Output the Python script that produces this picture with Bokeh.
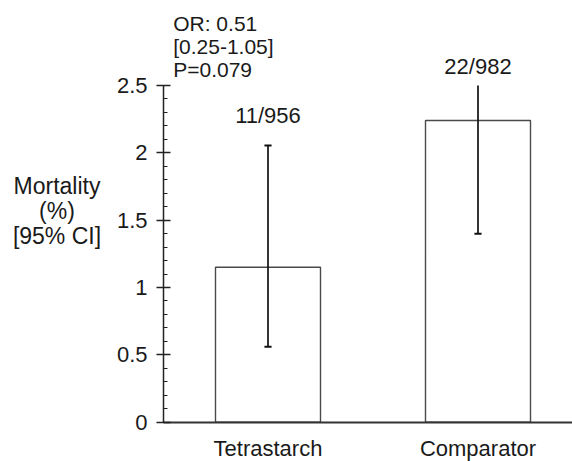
from bokeh.plotting import figure
from bokeh.models import (Range1d, FixedTicker, SingleIntervalTicker, CustomJSTickFormatter)
from bokeh.core.properties import value
from bokeh.embed import file_html
from bokeh.resources import INLINE

# ---- data ----
categories = ["Tetrastarch", "Comparator"]
mortality = [1.15, 2.24]
ci_lower = [0.56, 1.40]
ci_upper = [2.055, 2.50]          # comparator CI runs off the top of the axis (clipped at 2.5)
counts = ["11/956", "22/982"]
or_text = ["OR: 0.51", "[0.25-1.05]", "P=0.079"]
y_label_lines = ["Mortality", "(%)", "[95% CI]"]
y_ticks_max = 2.5

FONT = "Liberation Sans"
TXT = "#1a1a1a"

xs = list(range(1, len(categories) + 1))
x_axis_pos = 0.5024          # x (data) where the y axis stands
x_end = 2.450
nudge = 0.05                 # small upward shift of free text

p = figure(width=572, height=461, output_backend="svg", toolbar_location=None,
           x_range=Range1d(-0.2738, x_end), y_range=Range1d(-0.292, 3.131),
           min_border_left=0, min_border_right=0, min_border_top=0, min_border_bottom=0)
p.outline_line_color = None
p.xgrid.visible = False
p.ygrid.visible = False
p.background_fill_color = "white"
p.border_fill_color = "white"

# ---- bars ----
p.vbar(x=xs, top=mortality, bottom=0, width=0.5, fill_color="white",
       line_color="#4a4a4a", line_width=1.4)

# ---- error bars ----
p.segment(x0=xs, y0=ci_lower, x1=xs, y1=ci_upper, line_color="#111111", line_width=1.7)
cap = 0.017
cap_x0, cap_x1, cap_y = [], [], []
for x, lo, hi in zip(xs, ci_lower, ci_upper):
    cap_x0.append(x - cap); cap_x1.append(x + cap); cap_y.append(lo)
    if hi < y_ticks_max:
        cap_x0.append(x - cap); cap_x1.append(x + cap); cap_y.append(hi)
p.segment(x0=cap_x0, y0=cap_y, x1=cap_x1, y1=cap_y, line_color="#111111", line_width=2)

# ---- count labels ----
count_y = [2.225 + nudge, 2.59 + nudge]
p.text(x=xs, y=count_y, text=counts, text_align="center", text_baseline="alphabetic",
       text_font=value(FONT), text_font_size="22px", text_color=TXT)

# ---- OR annotation ----
or_x = 0.5486
or_top = 2.908 + nudge
step = 0.171
p.text(x=[or_x] * len(or_text), y=[or_top - i * step for i in range(len(or_text))], text=or_text,
       text_align="left", text_baseline="alphabetic",
       text_font=value(FONT), text_font_size="21px", text_color=TXT)

# ---- y axis title (horizontal, centred lines) ----
yl_x = -0.0048
yl_top = 1.707 + nudge
yl_step = 0.1855
p.text(x=[yl_x] * len(y_label_lines), y=[yl_top - i * yl_step for i in range(len(y_label_lines))],
       text=y_label_lines, text_align="center", text_baseline="alphabetic",
       text_font=value(FONT), text_font_size="23px", text_color=TXT)

# ---- x axis at y=0 ----
xa = p.xaxis[0]
xa.fixed_location = 0
xa.bounds = (x_axis_pos, x_end)
xa.ticker = FixedTicker(ticks=xs)
xa.major_label_overrides = {x: c for x, c in zip(xs, categories)}
xa.major_tick_out = 0
xa.major_tick_in = 0
xa.minor_tick_out = 0
xa.minor_tick_in = 0
xa.axis_line_color = "#333333"
xa.axis_line_width = 2
xa.major_label_standoff = 14
xa.major_label_text_font = FONT
xa.major_label_text_font_size = "22px"
xa.major_label_text_color = TXT

# ---- y axis ----
ya = p.yaxis[0]
ya.fixed_location = x_axis_pos
ya.bounds = (0, y_ticks_max)
ya.ticker = SingleIntervalTicker(interval=0.5, num_minor_ticks=5)
ya.formatter = CustomJSTickFormatter(code="return tick.toString()")
ya.major_tick_out = 7
ya.major_tick_in = 7
ya.minor_tick_out = 0
ya.minor_tick_in = 4
ya.axis_line_color = "#222222"
ya.axis_line_width = 1.5
ya.major_tick_line_color = "#222222"
ya.major_tick_line_width = 1.5
ya.minor_tick_line_color = "#222222"
ya.minor_tick_line_width = 1
ya.major_label_standoff = 9
ya.major_label_text_font = FONT
ya.major_label_text_font_size = "22px"
ya.major_label_text_color = TXT

open("out.html", "w").write(file_html(p, INLINE))
